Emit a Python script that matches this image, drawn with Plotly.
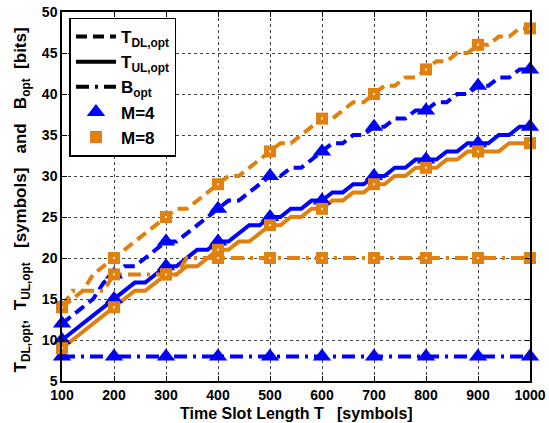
import plotly.graph_objects as go

# Time slot length grid (symbols)
T = list(range(100, 1001, 20))

# Values (stair-step curves)
T_DL_M4 = [12, 13, 14, 15, 17, 18, 19, 19, 20, 21, 22, 22, 23, 24, 25, 26,
           27, 27, 28, 29, 30, 30, 31, 31, 32, 33, 34, 34, 35, 35, 36,
           36, 37, 37, 38, 38, 39, 39, 40, 40, 41, 41, 42, 42, 43, 43]
T_UL_M4 = [10, 11, 12, 13, 14, 15, 16, 17, 17, 18, 19, 19, 20, 21, 21, 22,
           22, 23, 24, 24, 25, 25, 26, 26, 27, 27, 28, 28, 29, 29, 30,
           30, 31, 31, 32, 32, 32, 33, 33, 34, 34, 34, 35, 35, 36, 36]
B_M4 = [8, 8, 8, 8, 8, 8, 8, 8, 8, 8, 8, 8, 8, 8, 8, 8,
        8, 8, 8, 8, 8, 8, 8, 8, 8, 8, 8, 8, 8, 8, 8,
        8, 8, 8, 8, 8, 8, 8, 8, 8, 8, 8, 8, 8, 8, 8]
T_DL_M8 = [14, 15, 16, 18, 19, 20, 21, 22, 23, 24, 25, 26, 26, 27, 28, 29,
           30, 30, 31, 32, 33, 34, 34, 35, 36, 37, 37, 38, 39, 39, 40,
           41, 41, 42, 42, 43, 44, 44, 45, 45, 46, 46, 47, 47, 48, 48]
T_UL_M8 = [9, 10, 11, 12, 13, 14, 15, 16, 16, 17, 18, 18, 19, 19, 20, 21,
           21, 22, 22, 23, 24, 24, 25, 25, 26, 26, 27, 27, 28, 28, 29,
           29, 30, 30, 31, 31, 31, 32, 32, 33, 33, 33, 33, 34, 34, 34]
B_M8 = [14, 16, 16, 16, 16, 18, 18, 18, 18, 18, 18, 18, 20, 20, 20, 20,
        20, 20, 20, 20, 20, 20, 20, 20, 20, 20, 20, 20, 20, 20, 20,
        20, 20, 20, 20, 20, 20, 20, 20, 20, 20, 20, 20, 20, 20, 20]

x_ticks = [100, 200, 300, 400, 500, 600, 700, 800, 900, 1000]
y_ticks = [5, 10, 15, 20, 25, 30, 35, 40, 45, 50]

BLUE = "#0000FF"
ORANGE = "#E0800E"
DASH = "11px,6px"
DASHDOT = "13px,6px,3px,6px"
LW = 4

FONT = "Liberation Sans, Arial, sans-serif"

fig = go.Figure()

series = [
    (T_DL_M4, BLUE, DASH), (T_UL_M4, BLUE, "solid"), (B_M4, BLUE, DASHDOT),
    (T_DL_M8, ORANGE, DASH), (T_UL_M8, ORANGE, "solid"), (B_M8, ORANGE, DASHDOT),
]
for vals, col, dash in series:
    fig.add_trace(go.Scatter(x=T, y=vals, mode="lines",
                             line=dict(color=col, width=LW, dash=dash),
                             showlegend=False, hoverinfo="skip"))

# markers every 100 symbols
idx = [i for i, t in enumerate(T) if t % 100 == 0]
mx = [T[i] for i in idx]
for vals in (T_DL_M4, T_UL_M4, B_M4):
    fig.add_trace(go.Scatter(x=mx, y=[vals[i] for i in idx], mode="markers",
                             marker=dict(symbol="triangle-up", size=16, color=BLUE,
                                         line=dict(width=0)),
                             showlegend=False, cliponaxis=False))
for vals in (T_DL_M8, T_UL_M8, B_M8):
    fig.add_trace(go.Scatter(x=mx, y=[vals[i] for i in idx], mode="markers",
                             marker=dict(symbol="square", size=12, color=ORANGE,
                                         line=dict(width=0)),
                             showlegend=False, cliponaxis=False))
    fig.add_trace(go.Scatter(x=mx, y=[vals[i] for i in idx], mode="markers",
                             marker=dict(symbol="square", size=2, color="#FFE8C8",
                                         line=dict(width=0)),
                             showlegend=False, cliponaxis=False))

# legend entries
fig.add_trace(go.Scatter(x=[None], y=[None], mode="lines", name="T<sub>DL,opt</sub>",
                         line=dict(color="black", width=LW, dash=DASH)))
fig.add_trace(go.Scatter(x=[None], y=[None], mode="lines", name="T<sub>UL,opt</sub>",
                         line=dict(color="black", width=LW)))
fig.add_trace(go.Scatter(x=[None], y=[None], mode="lines", name="B<sub>opt</sub>",
                         line=dict(color="black", width=LW, dash=DASHDOT)))
fig.add_trace(go.Scatter(x=[None], y=[None], mode="markers", name="M=4",
                         marker=dict(symbol="triangle-up", size=16, color=BLUE)))
fig.add_trace(go.Scatter(x=[None], y=[None], mode="markers", name="M=8",
                         marker=dict(symbol="square", size=12, color=ORANGE)))

axis_common = dict(
    showline=True, linecolor="black", linewidth=1.5, mirror="allticks",
    ticks="inside", ticklen=5, tickcolor="black", tickwidth=1,
    showgrid=True, gridcolor="#444444", griddash="dot", gridwidth=1,
    zeroline=False, automargin=False, ticklabeloverflow="allow",
    tickfont=dict(family=FONT, size=14, color="black", weight="bold"),
)

fig.update_layout(
    template="none",
    width=549, height=423,
    margin=dict(l=62, r=19, t=12, b=42),
    paper_bgcolor="white", plot_bgcolor="white",
    xaxis=dict(range=[100, 1000], tickvals=x_ticks, ticktext=[str(v) for v in x_ticks],
               **axis_common),
    yaxis=dict(range=[5, 50], tickvals=y_ticks, ticktext=[str(v) for v in y_ticks],
               **axis_common),
    legend=dict(x=0.016, y=0.985, xanchor="left", yanchor="top",
                bgcolor="white", bordercolor="black", borderwidth=1.5,
                font=dict(family=FONT, size=17, color="black", weight="bold"),
                tracegroupgap=0, itemwidth=40),
    showlegend=True,
    annotations=[
        dict(text="Time Slot Length T&nbsp;&nbsp; [symbols]", xref="paper", yref="paper",
             x=0.502, y=-0.089, xanchor="center", yanchor="middle", showarrow=False,
             font=dict(family=FONT, size=16, color="black", weight="bold")),
        dict(text="T<sub>DL,opt</sub>,&nbsp; T<sub>UL,opt</sub>&nbsp;&nbsp; [symbols]&nbsp;&nbsp; and&nbsp;&nbsp; B<sub>opt</sub>&nbsp; [bits]",
             xref="paper", yref="paper", x=-0.085, y=0.49, xanchor="center", yanchor="middle",
             textangle=-90, showarrow=False,
             font=dict(family=FONT, size=17, color="black", weight="bold")),
    ],
)

# remove the page's default 8px body margin so the figure fills the window
fig.write_html("out.html", config={"displayModeBar": False},
               post_script="document.body.style.margin='0';document.body.style.overflow='hidden';")
